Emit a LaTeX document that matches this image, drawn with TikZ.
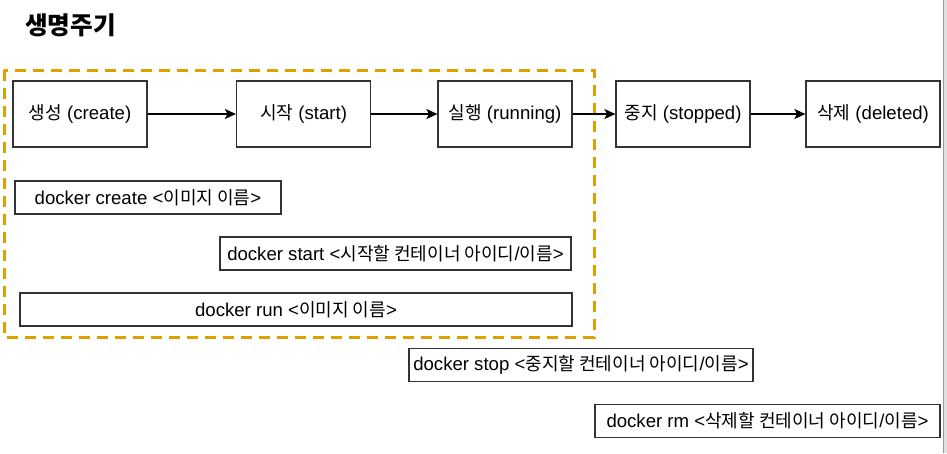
\documentclass[tikz,border=0pt]{standalone}
\usepackage{fontspec}
\setmainfont{Liberation Sans}
\newfontfamily\kr[Scale=0.97]{Noto Sans CJK KR}
\usetikzlibrary{arrows.meta}
\definecolor{dashorange}{HTML}{DFA000}
\definecolor{boxline}{HTML}{333333}
\tikzset{
  statebox/.style={draw=boxline, line width=1.2pt, minimum width=134pt, minimum height=66pt, inner sep=0pt, font=\fontsize{18.6}{22}\selectfont},
  cmdbox/.style={draw=boxline, line width=1.2pt, minimum height=33pt, inner sep=0pt, font=\fontsize{18.6}{22}\selectfont},
  flow/.style={-{Stealth[length=11pt,width=10pt,inset=2.5pt]}, line width=1.1pt, black},
}
\begin{document}
\begin{tikzpicture}[x=1pt,y=-1pt]
\useasboundingbox (0,0) rectangle (947,453);
\fill[white] (0,0) rectangle (947,453);
% right screenshot edge
\fill[black!12] (942.5,0) rectangle (947,453);
\draw[black!40, line width=1pt] (943,0) -- (943,453);
% title
\node[anchor=west, font=\fontsize{25.4}{30}\selectfont\kr\bfseries, inner sep=0pt] (title) at (25,25) {생명주기};
% dashed group
\draw[dashorange, line width=3pt, dash pattern=on 11pt off 7pt] (4,70) rectangle (594,337);
% state boxes
\node[statebox] (create) at (80,114) {\raisebox{-1.5pt}{{\kr 생성} (create)}};
\node[statebox] (start) at (303.5,114) {\raisebox{-1.5pt}{{\kr 시작} (start)}};
\node[statebox] (running) at (505,114) {\raisebox{-1.5pt}{{\kr 실행} (running)}};
\node[statebox] (stopped) at (683,114) {\raisebox{-1.5pt}{{\kr 중지} (stopped)}};
\node[statebox] (deleted) at (873,114) {\raisebox{-1.5pt}{{\kr 삭제} (deleted)}};
\draw[flow] (create) -- (start);
\draw[flow] (start) -- (running);
\draw[flow] (running) -- (stopped);
\draw[flow] (stopped) -- (deleted);
% command boxes
\node[cmdbox, minimum width=266pt] (ccreate) at (148,197.5) {docker create <{\kr 이미지 이름}>};
\node[cmdbox, minimum width=351pt] (cstart) at (395.5,253.5) {docker start <{\kr 시작할 컨테이너 아이디}/{\kr 이름}>};
\node[cmdbox, minimum width=552pt] (crun) at (296,309.5) {docker run <{\kr 이미지 이름}>};
\node[cmdbox, minimum width=344pt] (cstop) at (581,365) {docker stop <{\kr 중지할 컨테이너 아이디}/{\kr 이름}>};
\node[cmdbox, minimum width=345pt] (crm) at (767.5,421) {docker rm <{\kr 삭제할 컨테이너 아이디}/{\kr 이름}>};
\end{tikzpicture}
\end{document}
